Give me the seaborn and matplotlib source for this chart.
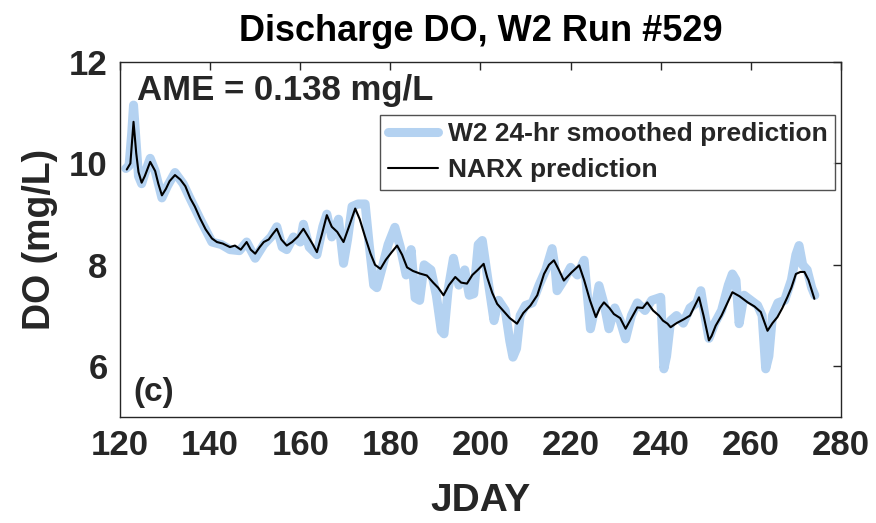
import numpy as np
import pandas as pd
import matplotlib
matplotlib.use("Agg")
import matplotlib.pyplot as plt
import seaborn as sns

# NARX prediction
narx_jday = [121.5, 122.3, 123.0, 123.6, 124.1, 124.8, 125.5, 126.7, 127.8, 128.5,
             129.3, 130.2, 131.0, 132.2, 133.4, 134.5, 135.6, 136.6, 137.8, 139.0,
             140.4, 141.5, 142.8, 144.4, 145.5, 146.8, 148.1, 149.0, 150.0, 151.0,
             151.9, 153.0, 154.0, 154.8, 155.8, 157.0, 158.2, 159.4, 160.7, 161.8,
             162.8, 163.7, 164.8, 165.9, 167.0, 168.2, 169.6, 170.8, 172.2, 173.2,
             174.4, 175.6, 176.6, 177.8, 179.0, 180.3, 181.5, 182.6, 183.7, 185.0,
             186.5, 188.1, 189.5, 190.6, 191.8, 193.0, 194.4, 195.7, 197.0, 198.2,
             199.4, 200.7, 201.5, 202.6, 203.7, 205.0, 206.5, 208.1, 209.5, 211.1,
             212.6, 214.1, 215.2, 216.3, 217.4, 218.5, 220.2, 221.9, 223.0, 224.3,
             225.6, 226.5, 227.4, 228.6, 229.6, 231.0, 232.2, 233.5, 234.8, 236.0,
             237.0, 238.3, 239.6, 240.5, 241.5, 242.2, 243.5, 245.2, 246.5, 247.6,
             248.5, 249.5, 250.7, 251.3, 252.2, 253.5, 254.8, 255.9, 257.5, 259.3,
             260.8, 262.2, 263.7, 264.8, 265.9, 267.0, 268.1, 269.0, 270.0, 271.0,
             271.9, 272.8, 274.1]
narx_do = [9.88, 10.00, 10.82, 10.20, 9.83, 9.62, 9.75, 10.03, 9.85, 9.60,
           9.37, 9.50, 9.65, 9.77, 9.68, 9.55, 9.31, 9.15, 8.91, 8.70,
           8.52, 8.45, 8.42, 8.35, 8.38, 8.30, 8.45, 8.30, 8.22, 8.35,
           8.45, 8.50, 8.62, 8.71, 8.50, 8.38, 8.45, 8.55, 8.71, 8.55,
           8.40, 8.25, 8.60, 8.98, 8.75, 8.65, 8.45, 8.75, 9.11, 8.90,
           8.55, 8.22, 8.00, 7.92, 8.10, 8.25, 8.38, 8.20, 7.95, 7.88,
           7.83, 7.79, 7.65, 7.55, 7.40, 7.60, 7.76, 7.65, 7.63, 7.80,
           7.90, 8.02, 7.75, 7.45, 7.23, 7.10, 6.95, 6.84, 7.05, 7.20,
           7.40, 7.82, 8.00, 8.09, 7.90, 7.69, 7.85, 7.99, 7.70, 7.30,
           6.97, 7.15, 7.26, 7.15, 7.03, 6.95, 6.74, 6.95, 7.16, 7.15,
           7.26, 7.10, 7.00, 6.90, 6.84, 6.77, 6.85, 6.93, 7.00, 7.20,
           7.36, 7.00, 6.51, 6.60, 6.80, 7.00, 7.25, 7.46, 7.38, 7.26,
           7.18, 7.07, 6.70, 6.85, 6.97, 7.15, 7.36, 7.55, 7.82, 7.86,
           7.86, 7.70, 7.33]

# W2 24-hr smoothed prediction
w2_jday = [121.3, 122.0, 122.6, 123.0, 123.5, 124.1, 124.8, 125.5, 126.7, 127.8,
           129.3, 130.5, 132.2, 134.0, 135.6, 137.8, 140.4, 142.5, 144.4, 146.5,
           148.1, 150.0, 151.9, 153.5, 154.8, 156.0, 157.0, 158.5, 160.0, 160.7,
           162.0, 163.7, 165.0, 165.9, 167.0, 168.5, 169.6, 170.5, 171.5, 172.8,
           174.4, 175.3, 176.3, 177.0, 178.2, 179.5, 181.0, 182.2, 183.5, 184.6,
           185.5, 186.5, 187.5, 189.0, 190.2, 191.3, 191.9, 192.8, 194.0, 195.2,
           196.5, 197.5, 198.5, 199.5, 200.4, 201.5, 203.0, 204.0, 205.5, 206.5,
           207.2, 208.0, 208.8, 210.0, 211.5, 213.0, 214.5, 215.9, 216.6, 217.0,
           218.5, 220.0, 221.5, 223.0, 224.4, 225.3, 226.3, 227.5, 228.5, 229.8,
           231.0, 232.2, 233.5, 234.8, 236.5, 238.0, 240.0, 240.7, 241.3, 242.2,
           243.5, 245.0, 246.5, 248.0, 248.9, 249.8, 250.7, 252.0, 253.5, 255.0,
           255.9, 256.7, 257.4, 258.5, 260.0, 261.5, 262.5, 263.3, 264.0, 264.8,
           266.0, 267.5, 269.0, 270.0, 270.7, 271.5, 272.5, 273.5, 274.2]
w2_do = [9.90, 9.95, 10.60, 11.15, 10.50, 9.75, 9.60, 9.80, 10.10, 9.85,
         9.32, 9.55, 9.82, 9.60, 9.30, 8.90, 8.45, 8.40, 8.30, 8.28,
         8.45, 8.13, 8.40, 8.55, 8.75, 8.35, 8.30, 8.55, 8.45, 8.80,
         8.35, 8.20, 8.75, 9.00, 8.55, 8.90, 8.03, 8.50, 9.15, 9.20,
         9.20, 8.40, 7.60, 7.55, 7.95, 8.40, 8.74, 8.35, 7.80, 8.30,
         7.35, 7.30, 8.00, 7.90, 7.40, 6.70, 6.64, 7.50, 8.13, 7.60,
         7.90, 7.40, 7.43, 8.40, 8.48, 7.80, 6.90, 7.30, 7.10, 6.50,
         6.18, 6.35, 7.00, 7.20, 7.25, 7.60, 7.90, 8.32, 7.90, 7.49,
         7.70, 7.95, 7.80, 8.09, 6.74, 7.10, 7.59, 7.20, 6.74, 7.15,
         6.90, 6.54, 7.00, 7.25, 7.10, 7.30, 7.36, 5.95, 6.20, 6.90,
         7.00, 6.85, 7.15, 7.25, 7.49, 7.00, 6.55, 6.85, 7.10, 7.60,
         7.82, 7.70, 6.84, 7.40, 7.30, 7.20, 7.00, 5.95, 6.20, 7.00,
         7.25, 7.30, 7.70, 8.20, 8.38, 8.00, 7.90, 7.55, 7.40]

x_ticks = [120, 140, 160, 180, 200, 220, 240, 260, 280]
y_ticks = [6, 8, 10, 12]

sns.set_theme(style="white")
plt.rcParams['font.family'] = ['Liberation Sans', 'DejaVu Sans']
plt.rcParams['font.weight'] = 'bold'

w2 = pd.DataFrame({"JDAY": w2_jday, "DO": w2_do})
narx = pd.DataFrame({"JDAY": narx_jday, "DO": narx_do})

fig = plt.figure(figsize=(8.76, 5.23), dpi=100)
ax = fig.add_axes([0.137, 0.2027, 0.823, 0.6788])

sns.lineplot(data=w2, x="JDAY", y="DO", ax=ax, color="#b4d2f1", lw=6.5,
             label="W2 24-hr smoothed prediction", solid_capstyle="round")
sns.lineplot(data=narx, x="JDAY", y="DO", ax=ax, color="black", lw=1.5,
             label="NARX prediction")

ax.set_xlim(120, 280)
ax.set_ylim(5, 12)
ax.set_xticks(x_ticks)
ax.set_yticks(y_ticks)
ax.tick_params(direction="in", length=6, width=1, top=True, right=True,
               labelsize=25, colors="#262626", pad=9)
for lab in ax.get_xticklabels() + ax.get_yticklabels():
    lab.set_fontweight("bold")
for sp in ax.spines.values():
    sp.set_color("#262626")
    sp.set_linewidth(1)

ax.set_xlabel("JDAY", fontsize=28, fontweight="bold", color="#262626", labelpad=15)
ax.set_ylabel("DO (mg/L)", fontsize=27, fontweight="bold", color="#262626", labelpad=8)
ax.set_title("Discharge DO, W2 Run #529", fontsize=26, fontweight="bold",
             color="black", pad=15)

ax.text(0.024, 0.965, "AME = 0.138 mg/L", transform=ax.transAxes, fontsize=25,
        fontweight="bold", va="top", ha="left")
ax.text(0.018, 0.025, "(c)", transform=ax.transAxes, fontsize=24,
        fontweight="bold", va="bottom", ha="left")

leg = ax.legend(loc="upper right", bbox_to_anchor=(0.992, 0.852), fontsize=19,
                frameon=True, fancybox=False, handlelength=1.9, borderpad=0.3,
                labelspacing=0.45, handletextpad=0.35, borderaxespad=0)
leg.get_frame().set_edgecolor("#262626")
leg.get_frame().set_linewidth(1)
for t in leg.get_texts():
    t.set_fontweight("bold")

fig.savefig("out.png", dpi=100)
